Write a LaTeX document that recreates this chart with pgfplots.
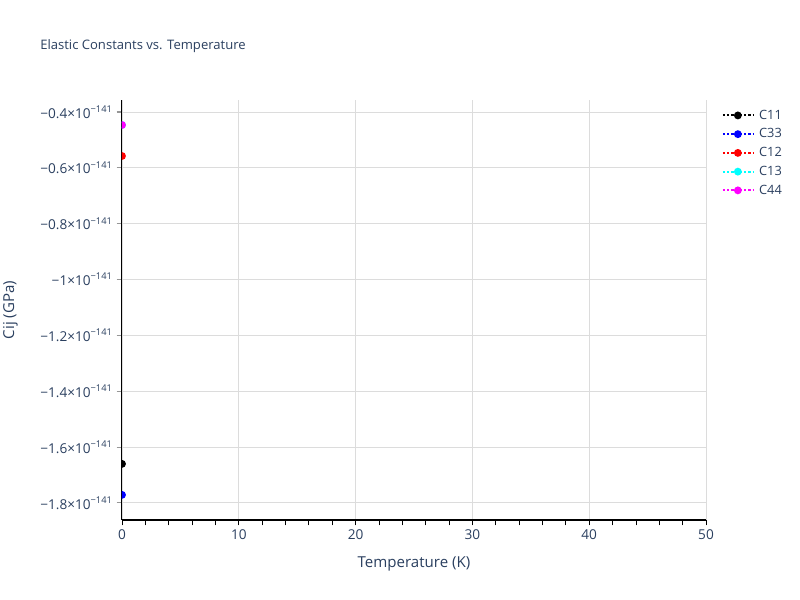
\documentclass[border=0pt]{standalone}
\usepackage{pgfplots}
\pgfplotsset{compat=1.18}
\usepackage{fontspec}
\setmainfont{Open Sans}
\definecolor{txt}{RGB}{42,63,95}
\definecolor{gridc}{RGB}{220,220,220}
\definecolor{tickc}{RGB}{150,150,150}
\definecolor{pcyan}{RGB}{0,255,255}
\definecolor{pmag}{RGB}{255,0,255}
\definecolor{pblue}{RGB}{0,0,255}
\definecolor{pred}{RGB}{255,0,0}
\newcommand{\ex}{\raisebox{0.42em}{\fontsize{7}{7}\selectfont −141}}
\begin{document}
\begin{tikzpicture}
\useasboundingbox (0pt,0pt) rectangle (600pt,450pt);
\node[anchor=west,text=txt,font=\fontsize{9.8}{11}\selectfont,inner sep=0pt] at (30pt,415.5pt) {Elastic Constants vs. Temperature};
\begin{axis}[
  at={(91.5pt,60pt)}, anchor=south west,
  scale only axis, width=438pt, height=315pt,
  xmin=0, xmax=50, ymin=-1.861, ymax=-0.357,
  axis x line*=bottom, axis y line*=left,
  axis line style={black, line width=0.75pt, -},
  xtick={0,10,20,30,40,50},
  minor x tick num=4,
  ytick={-1.8,-1.6,-1.4,-1.2,-1.0,-0.8,-0.6,-0.4},
  yticklabels={−1.8×10\ex,−1.6×10\ex,−1.4×10\ex,−1.2×10\ex,−1×10\ex,−0.8×10\ex,−0.6×10\ex,−0.4×10\ex},
  tick align=outside,
  major tick length=4pt, minor tick length=4pt,
  xtick style={black, line width=0.6pt},
  ytick style={tickc, line width=0.8pt},
  grid=major,
  major grid style={gridc, line width=0.7pt},
  tick label style={text=txt, font=\fontsize{10.2}{11}\selectfont},
  /pgf/number format/assume math mode=true,
  xlabel={Temperature (K)}, ylabel={Cij (GPa)},
  label style={text=txt, font=\fontsize{11.3}{13}\selectfont},
  xlabel style={yshift=-6pt},
  ylabel style={yshift=10pt},
  clip marker paths=true,
  legend style={at={(1.02,0.99)}, anchor=north west, draw=none, fill=none,
    font=\fontsize{9.6}{10}\selectfont, text=txt, row sep=1.6pt},
  legend cell align=left,
  legend image code/.code={\draw[#1, mark repeat=2, mark phase=2] plot coordinates {(0pt,0pt) (11.25pt,0pt) (22.5pt,0pt)};},
]
\addplot[black, dash pattern=on 1.6pt off 1.6pt, line width=1.4pt, mark=*, mark size=2.2pt, mark options={solid}] coordinates {(0,-1.660)};
\addlegendentry{\hspace{2pt}C11}
\addplot[pblue, dash pattern=on 1.6pt off 1.6pt, line width=1.4pt, mark=*, mark size=2.2pt, mark options={solid}] coordinates {(0,-1.771)};
\addlegendentry{\hspace{2pt}C33}
\addplot[pred, dash pattern=on 1.6pt off 1.6pt, line width=1.4pt, mark=*, mark size=2.2pt, mark options={solid}] coordinates {(0,-0.5575)};
\addlegendentry{\hspace{2pt}C12}
\addplot[pcyan, dash pattern=on 1.6pt off 1.6pt, line width=1.4pt, mark=*, mark size=2.2pt, mark options={solid}] coordinates {(0,-0.4465)};
\addlegendentry{\hspace{2pt}C13}
\addplot[pmag, dash pattern=on 1.6pt off 1.6pt, line width=1.4pt, mark=*, mark size=2.2pt, mark options={solid}] coordinates {(0,-0.4465)};
\addlegendentry{\hspace{2pt}C44}
\end{axis}
\end{tikzpicture}
\end{document}
